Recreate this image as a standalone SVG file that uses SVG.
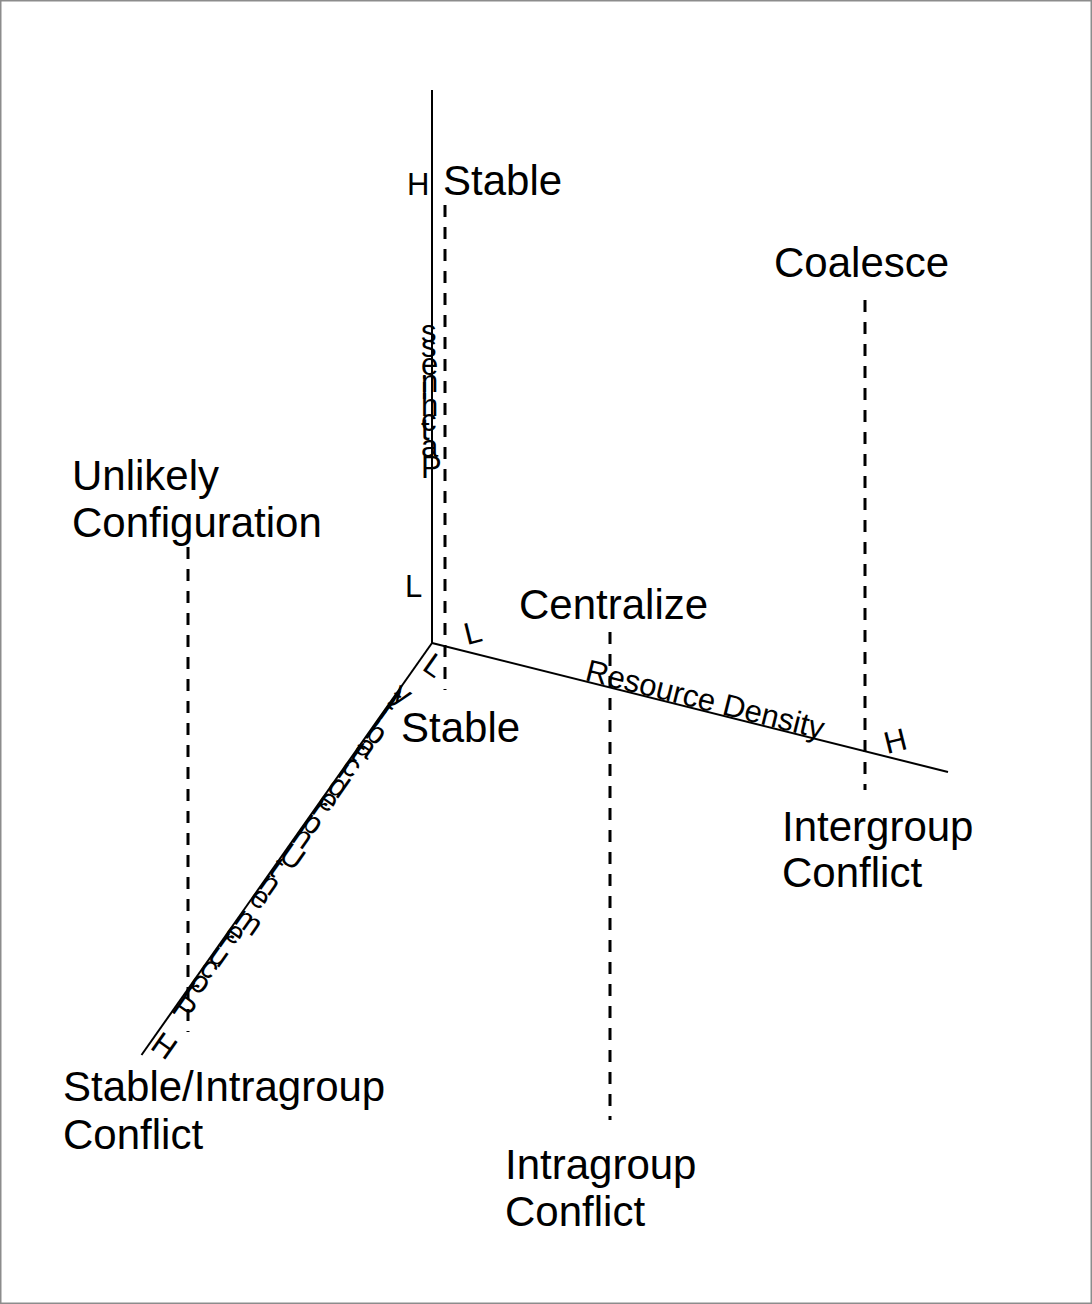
<svg xmlns="http://www.w3.org/2000/svg" width="1092" height="1304" viewBox="0 0 1092 1304">
<style>
.frame{fill:#fff;stroke:#8c8c8c;stroke-width:1.5}
.axis{stroke:#000;stroke-width:2;fill:none}
.dash{stroke:#000;stroke-width:3;stroke-dasharray:12 10;fill:none}
.lbl{font-family:"Liberation Sans",Arial,sans-serif;font-size:42px;fill:#000}
.ax{font-family:"Liberation Sans",Arial,sans-serif;font-size:31px;fill:#000}
</style>
<rect class="frame" x="0.75" y="0.75" width="1090.5" height="1302.5"/>
<g id="connectors">
<line class="axis" x1="432" y1="90" x2="432" y2="644"/>
<line class="axis" x1="432" y1="643" x2="948" y2="772"/>
<line class="axis" x1="432" y1="643" x2="141.5" y2="1055"/>
<line class="dash" x1="445" y1="205" x2="445" y2="690"/>
<line class="dash" x1="865" y1="300" x2="865" y2="790"/>
<line class="dash" x1="188" y1="547" x2="188" y2="1032"/>
<line class="dash" x1="610" y1="632" x2="610" y2="1120"/>
</g>
<g id="axis-labels">
<text class="ax" x="407" y="195">H</text>
<text class="ax" x="405" y="597">L</text>
<text class="ax" transform="translate(421,478) rotate(-90)" rotate="90">Patchiness</text>
<text class="ax" transform="translate(584,680) rotate(14)">Resource Density</text>
<text class="ax" transform="translate(467,645) rotate(-14)">L</text>
<text class="ax" transform="translate(887,754) rotate(-14)">H</text>
<text class="ax" transform="translate(170,1011) rotate(-54.85)" rotate="90">Procurement Unpredictability</text>
<text class="ax" transform="translate(421,669) rotate(-54.85)" rotate="90">L</text>
<text class="ax" transform="translate(149,1048) rotate(-54.85)" rotate="90">H</text>
</g>
<g id="node-stable-top"><text class="lbl" x="443" y="195">Stable</text></g>
<g id="node-coalesce"><text class="lbl" x="774" y="277">Coalesce</text></g>
<g id="node-unlikely"><text class="lbl" x="72" y="490">Unlikely</text><text class="lbl" x="72" y="537">Configuration</text></g>
<g id="node-centralize"><text class="lbl" x="519" y="619">Centralize</text></g>
<g id="node-stable-bottom"><text class="lbl" x="401" y="742">Stable</text></g>
<g id="node-intergroup"><text class="lbl" x="782" y="841">Intergroup</text><text class="lbl" x="782" y="887">Conflict</text></g>
<g id="node-stable-intragroup"><text class="lbl" x="63" y="1101">Stable/Intragroup</text><text class="lbl" x="63" y="1149">Conflict</text></g>
<g id="node-intragroup"><text class="lbl" x="505" y="1179">Intragroup</text><text class="lbl" x="505" y="1226">Conflict</text></g>
</svg>
